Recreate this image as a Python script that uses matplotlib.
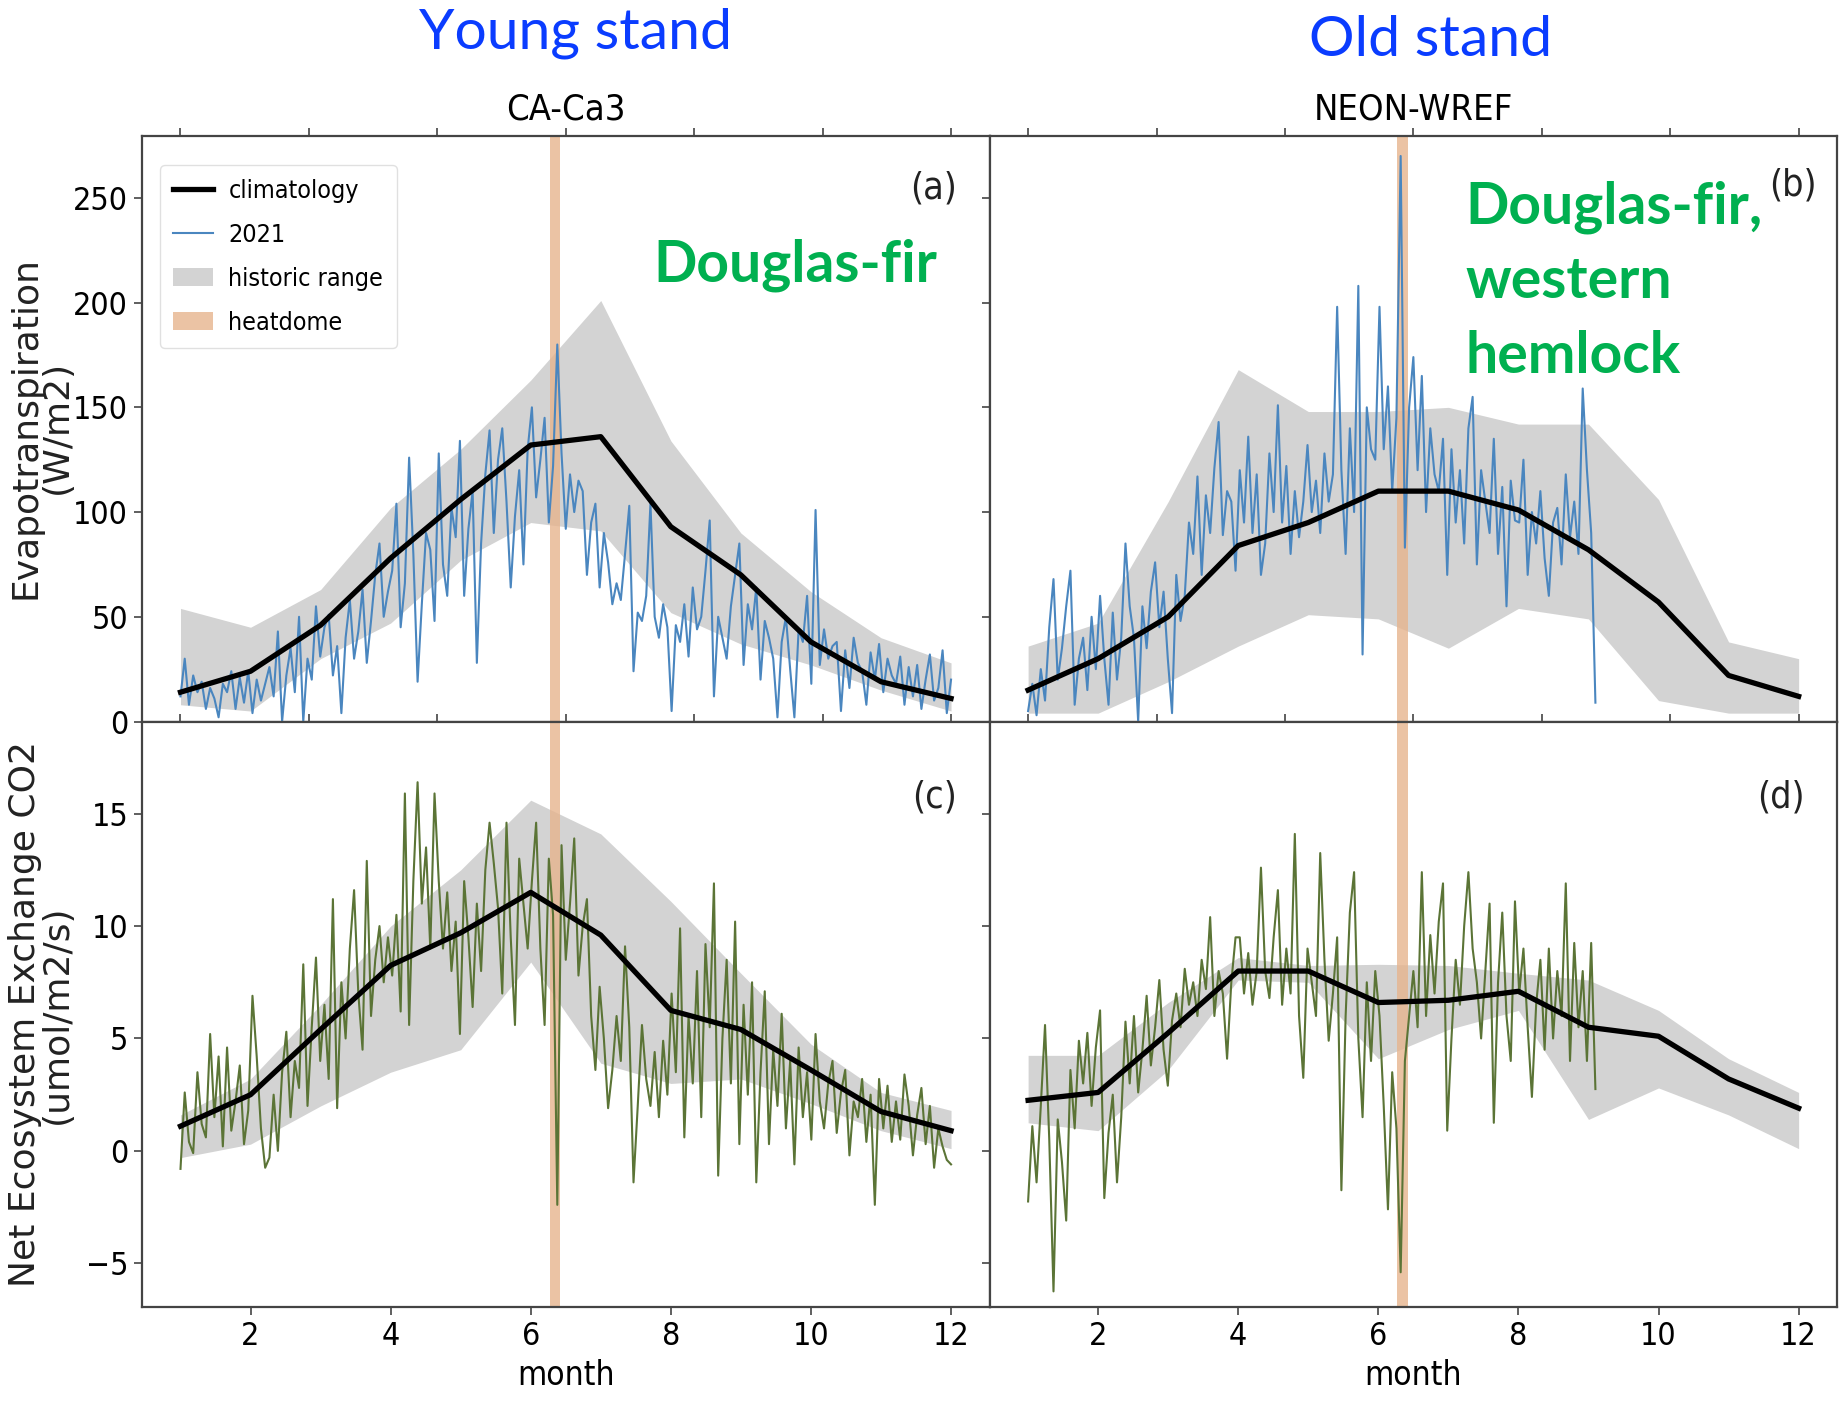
import numpy as np
import matplotlib
matplotlib.use("Agg")
import matplotlib.pyplot as plt
from matplotlib import font_manager
from matplotlib.lines import Line2D
from matplotlib.patches import Patch
from matplotlib.ticker import NullFormatter

# narrow sans for the axes text; condensed DejaVu if present
cond = font_manager.findfont(font_manager.FontProperties(family='DejaVu Sans',
                                                         stretch='condensed'))
if 'Condensed' in cond:
    plt.rcParams['font.family'] = ['DejaVu Sans']
    plt.rcParams['font.stretch'] = 'condensed'
else:
    plt.rcParams['font.family'] = ['Liberation Sans', 'DejaVu Sans']

months = np.arange(1, 13)

# evapotranspiration (W/m2), CA-Ca3
et_clim_ca3 = [14, 24, 46, 78, 106, 132, 136, 93, 70, 38, 19, 11]
et_hi_ca3 = [54, 45, 63, 102, 130, 163, 201, 134, 90, 62, 40, 28]
et_lo_ca3 = [8, 5, 30, 47, 77, 95, 91, 52, 37, 27, 15, 5]

# evapotranspiration (W/m2), NEON-WREF
et_clim_wref = [15, 30, 50, 84, 95, 110, 110, 101, 82, 57, 22, 12]
et_hi_wref = [36, 47, 105, 168, 148, 148, 150, 142, 142, 106, 38, 30]
et_lo_wref = [4, 4, 19, 36, 51, 49, 35, 54, 49, 10, 4, 4]

# net ecosystem exchange (umol/m2/s), CA-Ca3
nee_clim_ca3 = [1.1, 2.5, 5.4, 8.25, 9.7, 11.5, 9.6, 6.25, 5.4, 3.6, 1.75, 0.9]
nee_hi_ca3 = [1.6, 3.2, 6.5, 10.0, 12.5, 15.6, 14.1, 11.1, 7.9, 4.75, 2.6, 1.8]
nee_lo_ca3 = [-0.3, 0.3, 2.0, 3.5, 4.5, 8.4, 3.9, 3.0, 3.2, 2.1, 0.9, 0.1]

# net ecosystem exchange (umol/m2/s), NEON-WREF
nee_clim_wref = [2.25, 2.6, 5.25, 8.0, 8.0, 6.6, 6.7, 7.1, 5.5, 5.1, 3.2, 1.9]
nee_hi_wref = [4.25, 4.25, 6.6, 8.6, 8.25, 8.3, 8.25, 7.9, 7.6, 6.25, 4.1, 2.6]
nee_lo_wref = [1.25, 0.9, 3.6, 7.6, 7.5, 4.1, 5.4, 6.25, 1.4, 2.8, 1.6, 0.1]

# 2021 series, one value every second day (one row per month)
et_2021_ca3 = [
    12, 30, 8, 22, 14, 19, 6, 16, 11, 2, 18, 14, 24, 6, 21, 9, 24,
    4, 20, 10, 18, 26, 12, 43, 0, 22, 35, 14, 50, 0, 30, 20, 55,
    31, 45, 51, 22, 36, 4, 40, 58, 30, 43, 63, 28, 48, 70, 85, 50, 62,
    72, 104, 45, 66, 126, 80, 19, 56, 90, 82, 48, 128, 75, 60, 102, 88,
    134, 60, 92, 110, 28, 85, 118, 139, 90, 125, 140, 105, 64, 98, 120, 75, 130,
    150, 107, 125, 145, 95, 122, 180, 128, 92, 118, 100, 115, 110, 70, 95, 104,
    64, 90, 76, 56, 66, 58, 80, 103, 24, 52, 48, 60, 104, 50, 40, 56, 45,
    5, 46, 38, 56, 31, 64, 44, 50, 72, 96, 12, 50, 40, 30, 55, 70,
    85, 27, 56, 44, 64, 20, 48, 40, 30, 2, 38, 50, 25, 2, 44, 38, 60,
    18, 101, 27, 44, 30, 36, 38, 5, 34, 16, 40, 28, 24, 8, 33, 20,
    37, 14, 30, 22, 18, 31, 8, 26, 12, 27, 6, 20, 32, 10, 16, 34, 4,
    20,
]
et_2021_wref = [
    5, 18, 3, 25, 10, 45, 68, 20, 35, 55, 72, 8, 30, 40, 15, 50, 25,
    60, 30, 8, 52, 20, 40, 85, 55, 40, 0, 55, 35, 62, 76, 45, 62,
    30, 4, 70, 48, 60, 95, 80, 117, 70, 108, 90, 121, 143, 89, 110, 105, 72,
    120, 95, 136, 90, 118, 70, 85, 128, 100, 151, 95, 122, 80, 110, 88, 105,
    132, 100, 115, 90, 128, 105, 118, 198, 120, 80, 140, 100, 208, 32, 150, 130, 125,
    198, 130, 160, 110, 145, 270, 83, 150, 174, 120, 165, 100, 140, 118, 110, 135,
    70, 130, 95, 120, 85, 140, 155, 75, 120, 105, 90, 135, 80, 112, 55, 115, 96,
    95, 125, 70, 100, 85, 110, 78, 60, 95, 102, 75, 118, 88, 105, 80, 159,
    120, 90, 9,
]
nee_2021_ca3 = [
    -0.8, 2.6, 0.4, -0.1, 3.5, 1.2, 0.6, 5.2, 1.5, 4.2, 0.2, 4.6, 0.9, 2.2, 3.8, 0.3, 1.8,
    6.9, 4.2, 1.0, -0.75, -0.3, 2.5, 0.0, 3.5, 5.3, 1.5, 4.0, 2.8, 8.3, 2.0, 5.5, 8.6,
    4.0, 6.5, 3.2, 11.2, 1.9, 7.5, 5.0, 9.0, 11.6, 7.0, 4.5, 12.9, 6.0, 8.5, 10.0, 7.5, 9.5,
    7.8, 10.5, 6.2, 15.9, 5.6, 12.0, 16.4, 11.0, 13.5, 9.0, 15.9, 12.0, 9.0, 11.5, 8.0, 10.2,
    5.2, 12.0, 9.5, 6.4, 11.0, 8.0, 12.5, 14.6, 12.8, 10.8, 7.0, 14.6, 9.5, 5.6, 13.0, 11.0, 9.0,
    12.0, 14.6, 9.0, 5.6, 13.0, 10.5, -2.4, 13.6, 8.5, 11.0, 13.9, 7.8, 10.0, 11.2, 6.0, 3.6,
    7.3, 5.0, 1.9, 3.6, 6.0, 4.0, 9.1, 5.5, -1.4, 2.0, 5.6, 3.2, 2.0, 4.4, 1.5, 4.9, 2.5,
    7.0, 3.5, 9.9, 0.6, 6.0, 3.0, 8.0, 1.5, 9.2, 5.5, 11.9, -1.1, 5.0, 8.5, 3.0, 10.2,
    0.3, 6.5, 2.5, 7.5, -1.4, 3.5, 7.1, 0.3, 4.5, 2.0, 6.1, 1.0, 4.0, -0.6, 4.6, 1.5, 3.5,
    0.5, 5.2, 2.2, 1.0, 3.0, 4.0, 0.8, 2.6, 3.6, -0.2, 2.2, 1.5, 3.2, 0.4, 2.5, -2.4,
    3.2, 1.0, 2.9, 0.4, 2.2, 0.5, 3.4, 2.0, -0.2, 1.6, 2.8, 0.3, 2.0, -0.75, 1.0, 0.2, -0.4,
    -0.6,
]
nee_2021_wref = [
    -2.25, 1.1, -1.4, 2.0, 5.6, 0.5, -6.25, 1.4, -0.5, -3.1, 3.6, 1.0, 4.9, 3.0, 5.25, 2.0, 4.6,
    6.25, -2.1, 0.8, 2.5, -1.4, 1.5, 5.75, 3.0, 6.0, 2.6, 4.5, 6.9, 3.8, 5.5, 7.6, 4.5,
    2.9, 5.8, 7.0, 5.5, 8.1, 6.5, 7.5, 6.0, 8.5, 7.2, 10.4, 6.0, 8.0, 7.0, 4.1, 7.5, 9.5,
    9.5, 7.0, 8.8, 6.5, 8.0, 12.6, 8.0, 6.8, 9.5, 11.6, 6.5, 9.0, 7.0, 14.1, 6.0, 3.25,
    9.0, 7.5, 6.0, 13.25, 8.5, 4.9, 7.0, 9.5, -1.75, 6.0, 10.6, 12.4, 5.0, 1.5, 7.5, 4.0, 8.0,
    6.0, 2.0, -2.6, 3.5, 1.0, -5.4, 4.0, 6.0, 8.0, 5.5, 12.4, 6.0, 9.6, 7.0, 10.2, 11.9,
    0.9, 5.0, 8.5, 6.5, 10.0, 12.4, 9.0, 7.5, 5.0, 8.0, 11.0, 1.25, 7.5, 10.6, 6.0, 4.0, 11.1,
    7.0, 9.0, 5.5, 2.4, 6.5, 8.5, 4.5, 9.0, 5.0, 8.0, 6.0, 11.9, 4.0, 9.25, 5.5, 8.0,
    4.0, 9.25, 2.75,
]

heatdome = (6.27, 6.42)
sites = ['CA-Ca3', 'NEON-WREF']
panel_tags = [['(a)', '(b)'], ['(c)', '(d)']]
tag_pos = [[(0.962, 0.91), (0.976, 0.916)], [(0.962, 0.87), (0.962, 0.87)]]

clim_color = 'black'
range_color = 'lightgray'
dome_color = '#e6b48e'
et_color = '#4a86bf'
nee_color = '#5b7436'
frame_color = '#444444'


def day_x(values):
    # two-day steps on the month axis, starting at month 1
    return 1 + np.arange(len(values)) * 11 / 182


fig = plt.figure(figsize=(18.39, 14.01), dpi=100)
gs = fig.add_gridspec(2, 2, left=0.0772, right=0.999, top=0.903, bottom=0.067,
                      wspace=0, hspace=0)
axes = gs.subplots(sharex=True, sharey='row')

panels = [
    [(et_clim_ca3, et_lo_ca3, et_hi_ca3, et_2021_ca3, et_color),
     (et_clim_wref, et_lo_wref, et_hi_wref, et_2021_wref, et_color)],
    [(nee_clim_ca3, nee_lo_ca3, nee_hi_ca3, nee_2021_ca3, nee_color),
     (nee_clim_wref, nee_lo_wref, nee_hi_wref, nee_2021_wref, nee_color)],
]

for r in range(2):
    for c in range(2):
        ax = axes[r, c]
        clim, lo, hi, daily, col = panels[r][c]
        ax.fill_between(months, lo, hi, color=range_color, lw=0, zorder=1)
        ax.axvspan(*heatdome, color=dome_color, alpha=0.8, lw=0, zorder=2)
        ax.plot(day_x(daily), daily, color=col, lw=1.5, zorder=3)
        ax.plot(months, clim, color=clim_color, lw=3.8, zorder=4)

        tx, ty = tag_pos[r][c]
        ax.text(tx, ty, panel_tags[r][c], transform=ax.transAxes,
                ha='right', va='center', fontsize=27, color='#222222')

        for s in ax.spines.values():
            s.set_color(frame_color)
            s.set_linewidth(1.6)
        ax.tick_params(axis='both', labelsize=23, length=6, width=1.2,
                       color=frame_color, pad=4)

        top = ax.secondary_xaxis('top')
        top.set_xticks(np.linspace(1, 12, 7))
        top.xaxis.set_major_formatter(NullFormatter())
        top.tick_params(length=6, width=1.2, color=frame_color)
        top.spines['top'].set_visible(False)

for c in range(2):
    axes[0, c].tick_params(axis='x', bottom=False)
    axes[0, c].set_title(sites[c], fontsize=26, pad=12)
    axes[1, c].set_xlabel('month', fontsize=24, labelpad=5)

axes[1, 0].set_xlim(0.45, 12.55)
axes[1, 0].set_xticks([2, 4, 6, 8, 10, 12])
axes[0, 0].set_ylim(0, 279.6)
axes[0, 0].set_yticks([0, 50, 100, 150, 200, 250])
axes[1, 0].set_ylim(-6.95, 19.1)
axes[1, 0].set_yticks([-5, 0, 5, 10, 15])

fig.text(0.0222, 0.695, 'Evapotranspiration\n(W/m2)', rotation=90,
         ha='center', va='center', fontsize=26, family='DejaVu Sans',
         stretch='normal', linespacing=0.9, color='#222222')
fig.text(0.0222, 0.276, 'Net Ecosystem Exchange CO2\n(umol/m2/s)', rotation=90,
         ha='center', va='center', fontsize=26, family='DejaVu Sans',
         stretch='normal', linespacing=0.9, color='#222222')

handles = [
    Line2D([], [], color=clim_color, lw=3.8),
    Line2D([], [], color=et_color, lw=1.5),
    Patch(facecolor=range_color),
    Patch(facecolor=dome_color, alpha=0.8),
]
axes[0, 0].legend(handles, ['climatology', '2021', 'historic range', 'heatdome'],
                  loc='upper left', bbox_to_anchor=(0.006, 0.972), fontsize=18,
                  handlelength=1.6, handletextpad=0.6, labelspacing=0.8,
                  borderpad=0.55, framealpha=0.9, edgecolor='#dddddd')

# site descriptions
fig.text(0.3127, 0.976, 'Young stand', ha='center', va='center', fontsize=41,
         family='Lato', stretch='normal', color='#0a3cff')
fig.text(0.778, 0.971, 'Old stand', ha='center', va='center', fontsize=41,
         family='Lato', stretch='normal', color='#0a3cff')
fig.text(0.4323, 0.811, 'Douglas-fir', ha='center', va='center', fontsize=41,
         family='Lato', stretch='normal', weight='bold', color='#00b050')
fig.text(0.7967, 0.799, 'Douglas-fir,\nwestern\nhemlock', ha='left', va='center',
         fontsize=41, family='Lato', stretch='normal', weight='bold',
         color='#00b050', linespacing=1.5)

fig.savefig('out.png', dpi=100)
